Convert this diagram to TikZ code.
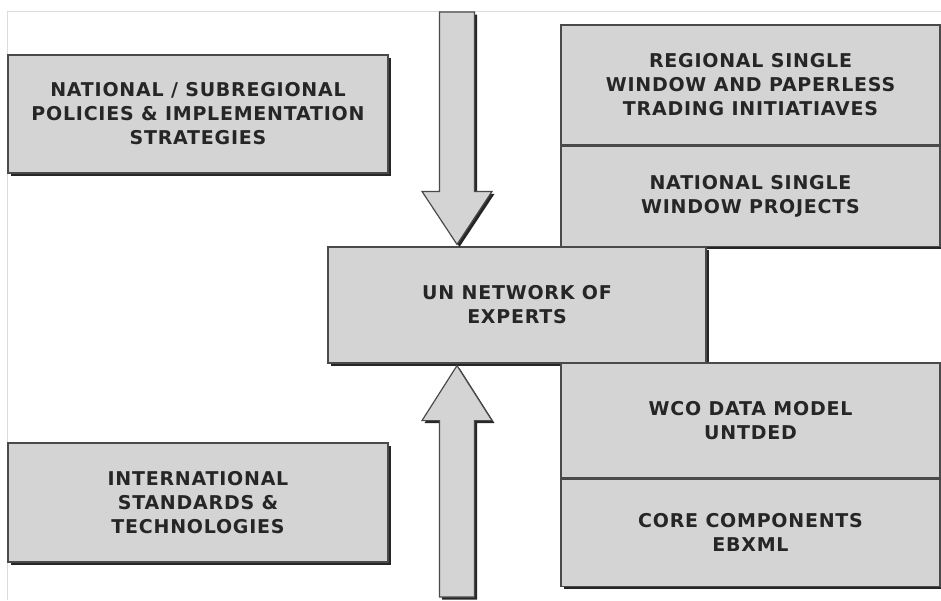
\documentclass[tikz,border=0pt]{standalone}
\usepackage{fontspec}
\setmainfont{DejaVu Sans}[LetterSpace=4]
\usetikzlibrary{positioning,shadows,calc}
\definecolor{boxgray}{HTML}{D4D4D4}
\definecolor{edgegray}{HTML}{4A4A4A}
\definecolor{framegray}{HTML}{DCDCDC}
\tikzset{
  boxshadow/.style={drop shadow={shadow xshift=2.5pt, shadow yshift=-2.5pt, fill=black!85, opacity=1}},
  box/.style={draw=edgegray, line width=1.2pt, fill=boxgray, text=black!85, align=center,
    inner sep=0pt, font=\bfseries\fontsize{19}{24}\selectfont, boxshadow},
  blockarrow/.style={draw=edgegray, line width=1.2pt, fill=boxgray, line join=miter, boxshadow}
}
\begin{document}
\begin{tikzpicture}[x=1pt, y=-1pt]
  \useasboundingbox (0,0) rectangle (941,600);
  \draw[framegray, line width=0.8pt] (7,600) -- (7,11) -- (941,11);
  % left column
  \node[box, minimum width=380, minimum height=118] (policies) at (198,114)
    {NATIONAL / SUBREGIONAL\\POLICIES \& IMPLEMENTATION\\STRATEGIES};
  \node[box, minimum width=380, minimum height=119] (standards) at (198,502.5)
    {INTERNATIONAL\\STANDARDS \&\\TECHNOLOGIES};
  % right column
  \node[box, minimum width=379, minimum height=120] (regional) at (750.5,85)
    {REGIONAL SINGLE\\WINDOW AND PAPERLESS\\TRADING INITIATIAVES};
  \node[box, minimum width=379, minimum height=100, below=0pt of regional] (national)
    {NATIONAL SINGLE\\WINDOW PROJECTS};
  \node[box, minimum width=378, minimum height=116] (hub) at (517,305)
    {UN NETWORK OF\\EXPERTS};
  \node[box, minimum width=379, minimum height=115] (wco) at (750.5,420.5)
    {WCO DATA MODEL\\UNTDED};
  \node[box, minimum width=379, minimum height=107, below=0pt of wco] (core)
    {CORE COMPONENTS\\EBXML};
  % block arrows into the hub
  \coordinate (topend) at (457,12);
  \coordinate (botend) at (457,597);
  \coordinate (downtip) at (topend |- hub.north);
  \coordinate (uptip) at (botend |- hub.south);
  \draw[blockarrow] ($(topend)+(-17.5,0)$) -- ($(topend)+(17.5,0)$)
    -- ($(downtip)+(17.5,-55)$) -- ($(downtip)+(35,-55)$) -- ($(downtip)+(0,-2)$)
    -- ($(downtip)+(-35,-55)$) -- ($(downtip)+(-17.5,-55)$) -- cycle;
  \draw[blockarrow] ($(botend)+(-17.5,0)$) -- ($(botend)+(17.5,0)$)
    -- ($(uptip)+(17.5,57)$) -- ($(uptip)+(35,57)$) -- ($(uptip)+(0,2)$)
    -- ($(uptip)+(-35,57)$) -- ($(uptip)+(-17.5,57)$) -- cycle;
\end{tikzpicture}
\end{document}
